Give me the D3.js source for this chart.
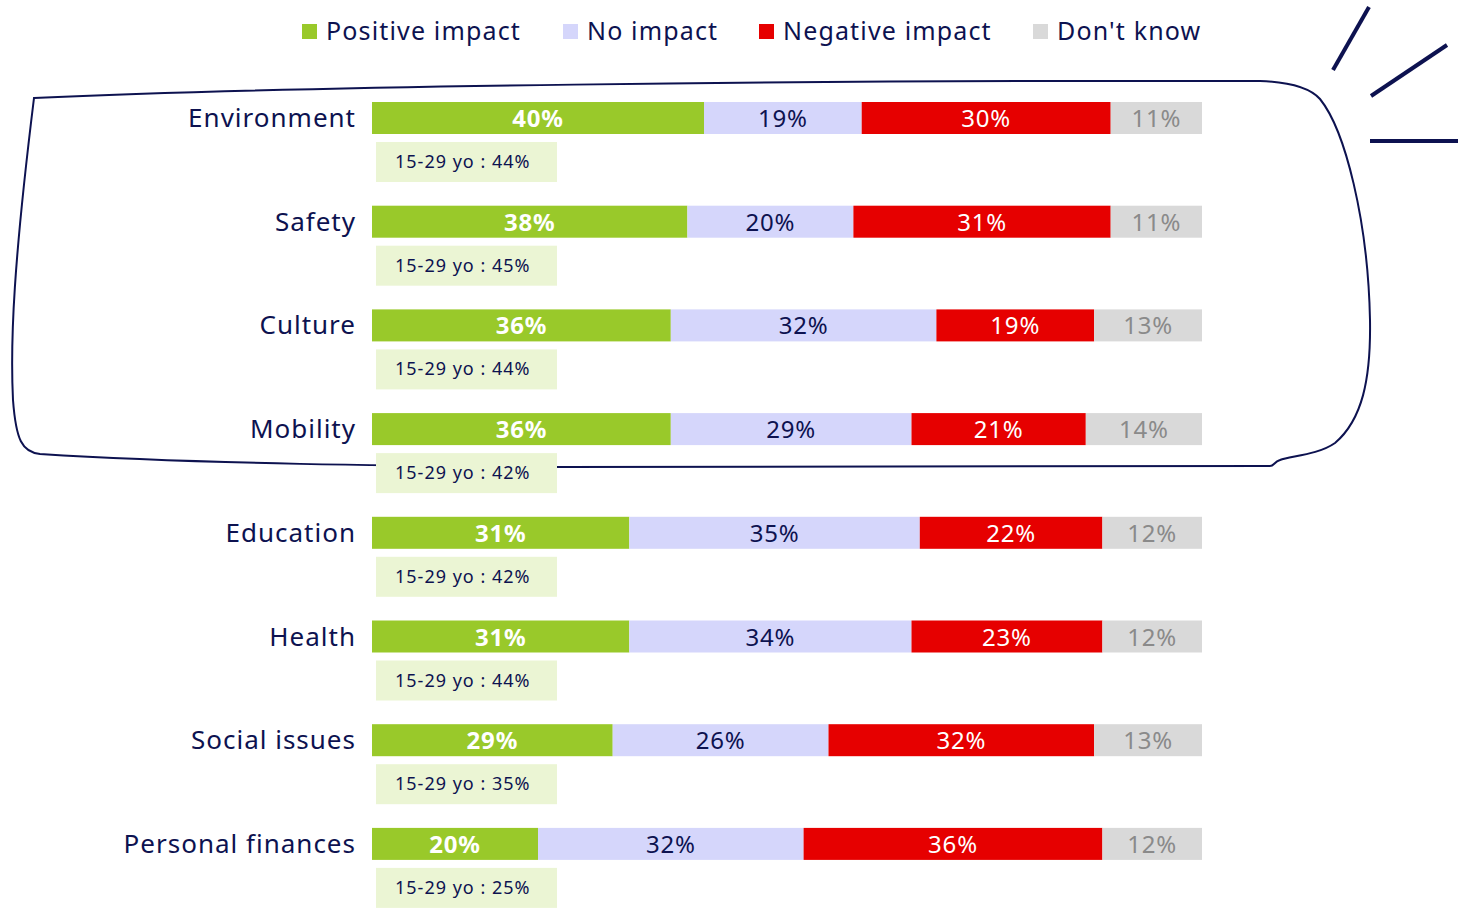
<!DOCTYPE html>
<html><head><meta charset="utf-8">
<script src="https://cdn.jsdelivr.net/npm/d3@7"></script>
<style>
html,body{margin:0;padding:0;background:#fff;}
svg{display:block;}
</style></head>
<body>
<svg id="chart" width="1463" height="910"></svg>
<script>
const categories = ["Environment","Safety","Culture","Mobility","Education","Health","Social issues","Personal finances"];
const positive  = [40,38,36,36,31,31,29,20];
const noImpact  = [19,20,32,29,35,34,26,32];
const negative  = [30,31,19,21,22,23,32,36];
const dontKnow  = [11,11,13,14,12,12,13,12];
const youth     = [44,45,44,42,42,44,35,25];
const seriesNames = ["Positive impact","No impact","Negative impact","Don't know"];

const colors = ["#99C92A","#D5D6FB","#E60000","#D9D9D9"];
const textColors = ["#ffffff","#0d1250","#ffffff","#8a8a8a"];
const textWeights = ["700","400","400","400"];
const navy = "#0d1250";
const font = "'Noto Sans', 'Open Sans', sans-serif";

const svg = d3.select("#chart");
const x = d3.scaleLinear().domain([0,100]).range([372,1202]);
const y = d3.scaleBand().domain(categories).range([102, 102 + 8*103.7]).paddingInner(0);
const barH = 32;

// decorative outline
const outline = "M34,98 C300,86 800,80 1260,81 C1290,82 1310,88 1320,99 C1345,130 1368,220 1370,320 C1371,380 1362,420 1335,443 C1318,455 1290,456 1280,460 C1274,462 1274,466 1270,466 L560,467 C400,466 200,464 40,454 C22,452 16,440 13,400 C10,340 14,260 34,98 Z";
svg.append("path").attr("d", outline).attr("fill","none").attr("stroke",navy).attr("stroke-width",2);

// decorative strokes
const strokes = [[1333,70,1369,7],[1371,96,1447,45],[1370,141,1458,141]];
svg.selectAll("line.deco").data(strokes).join("line").attr("class","deco")
  .attr("x1",d=>d[0]).attr("y1",d=>d[1]).attr("x2",d=>d[2]).attr("y2",d=>d[3])
  .attr("stroke",navy).attr("stroke-width",4);

// legend
const legendX = [302,563,759,1033];
const lg = svg.append("g");
seriesNames.forEach((n,i)=>{
  lg.append("rect").attr("x",legendX[i]).attr("y",24).attr("width",15).attr("height",15).attr("fill",colors[i]);
  lg.append("text").attr("x",legendX[i]+24).attr("y",40).text(n)
    .attr("font-family",font).attr("font-size",25).attr("letter-spacing",1.15).attr("fill",navy);
});

// rows
const rows = categories.map((c,i)=>{
  const vals=[positive[i],noImpact[i],negative[i],dontKnow[i]];
  let acc=0;
  const segs = vals.map((v,k)=>{const s={k,v,x0:acc,x1:acc+v}; acc+=v; return s;});
  return {c,i,segs,youth:youth[i]};
});

const g = svg.selectAll("g.row").data(rows).join("g").attr("class","row")
  .attr("transform",d=>`translate(0,${y(d.c)})`);

g.append("text").attr("x",356).attr("y",barH/2+9).attr("text-anchor","end")
  .attr("font-family",font).attr("font-size",26).attr("letter-spacing",1.0).attr("fill",navy).text(d=>d.c);

g.selectAll("rect.seg").data(d=>d.segs).join("rect").attr("class","seg")
  .attr("x",s=>x(s.x0)).attr("width",s=>x(s.x1)-x(s.x0)).attr("y",0).attr("height",barH)
  .attr("fill",s=>colors[s.k]);

g.selectAll("text.val").data(d=>d.segs).join("text").attr("class","val")
  .attr("x",s=>(x(s.x0)+x(s.x1))/2).attr("y",barH/2+9).attr("text-anchor","middle")
  .attr("font-family",font).attr("font-size",24).attr("letter-spacing",0.8).attr("font-weight",s=>textWeights[s.k])
  .attr("fill",s=>textColors[s.k]).text(s=>s.v+"%");

g.append("rect").attr("x",376).attr("y",40).attr("width",181).attr("height",40).attr("fill","#EBF5D4");
g.append("text").attr("x",395).attr("y",66).attr("font-family",font).attr("font-size",18).attr("letter-spacing",1.0)
  .attr("fill",navy).text(d=>"15-29 yo : "+d.youth+"%");
</script>
</body></html>
